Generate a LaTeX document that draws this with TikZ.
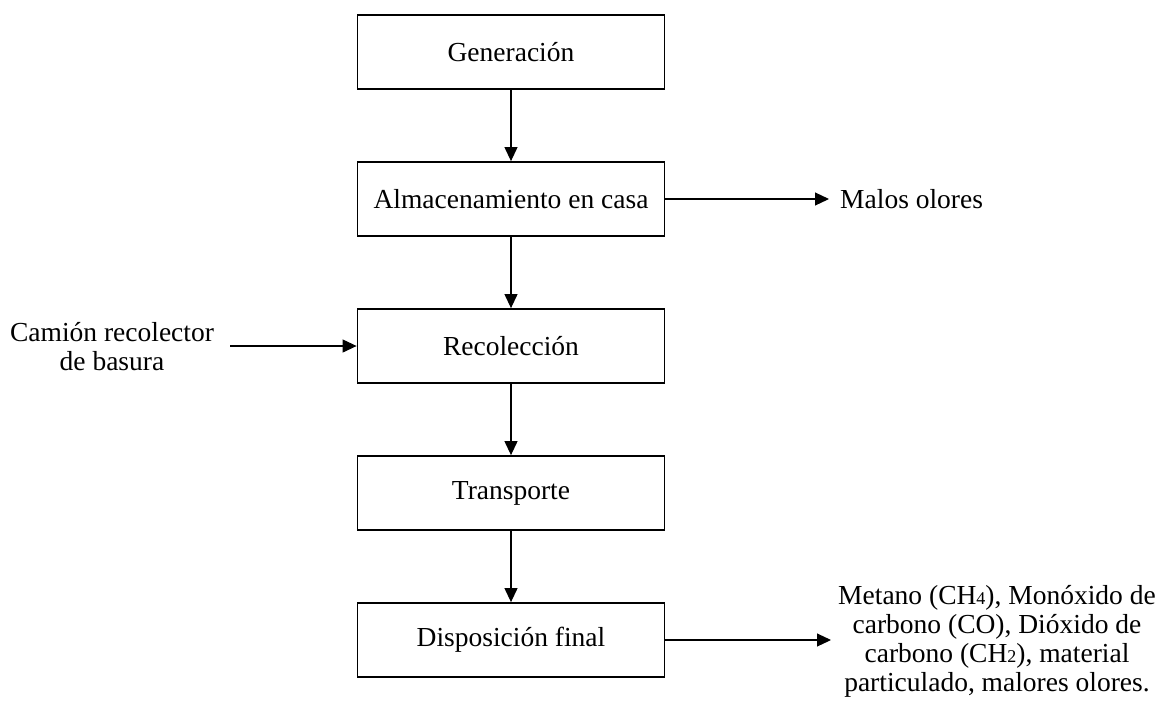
\documentclass[tikz,border=0pt]{standalone}
\usepackage{fontspec}
\setmainfont{Liberation Serif}
\usetikzlibrary{arrows.meta}
\newcommand{\smallnum}[1]{{\fontsize{18}{18}\selectfont #1}}
\begin{document}
\begin{tikzpicture}[x=1pt,y=-1pt,
  stepbox/.style={draw,line width=1.8pt,minimum width=307pt,minimum height=74pt,inner sep=0pt,font=\fontsize{27.5}{30}\selectfont},
  lbl/.style={inner sep=0pt,align=center,font=\fontsize{27.5}{29}\selectfont},
  conn/.style={line width=1.1pt,-{Triangle[length=14pt,width=13pt]}}]
\useasboundingbox (0,0) rectangle (1173,724);
\node[stepbox] (gen) at (511,52) {Generación};
\node[stepbox] (alm) at (511,199) {Almacenamiento en casa};
\node[stepbox] (rec) at (511,346) {Recolección};
\node[stepbox] (tra) at (511,493) {Transporte};
\node[stepbox] (dis) at (511,640) {Disposición final};
\node[lbl,anchor=west] (mal) at (840,199) {Malos olores};
\node[lbl] (cam) at (112,347) {Camión recolector\\de basura};
\node[lbl] (gas) at (997,641) {Metano (CH\smallnum{4}), Monóxido de\\carbono (CO), Dióxido de\\carbono (CH\smallnum{2}), material\\particulado, malores olores.};
\coordinate (camend) at (230,346);
\coordinate (malend) at (829,199);
\coordinate (gasend) at (831,640);
\draw[conn] (gen) -- (alm);
\draw[conn] (alm) -- (rec);
\draw[conn] (rec) -- (tra);
\draw[conn] (tra) -- (dis);
\draw[conn] (alm.east) -- (malend);
\draw[conn] (camend) -- (rec.west);
\draw[conn] (dis.east) -- (gasend);
\end{tikzpicture}
\end{document}
